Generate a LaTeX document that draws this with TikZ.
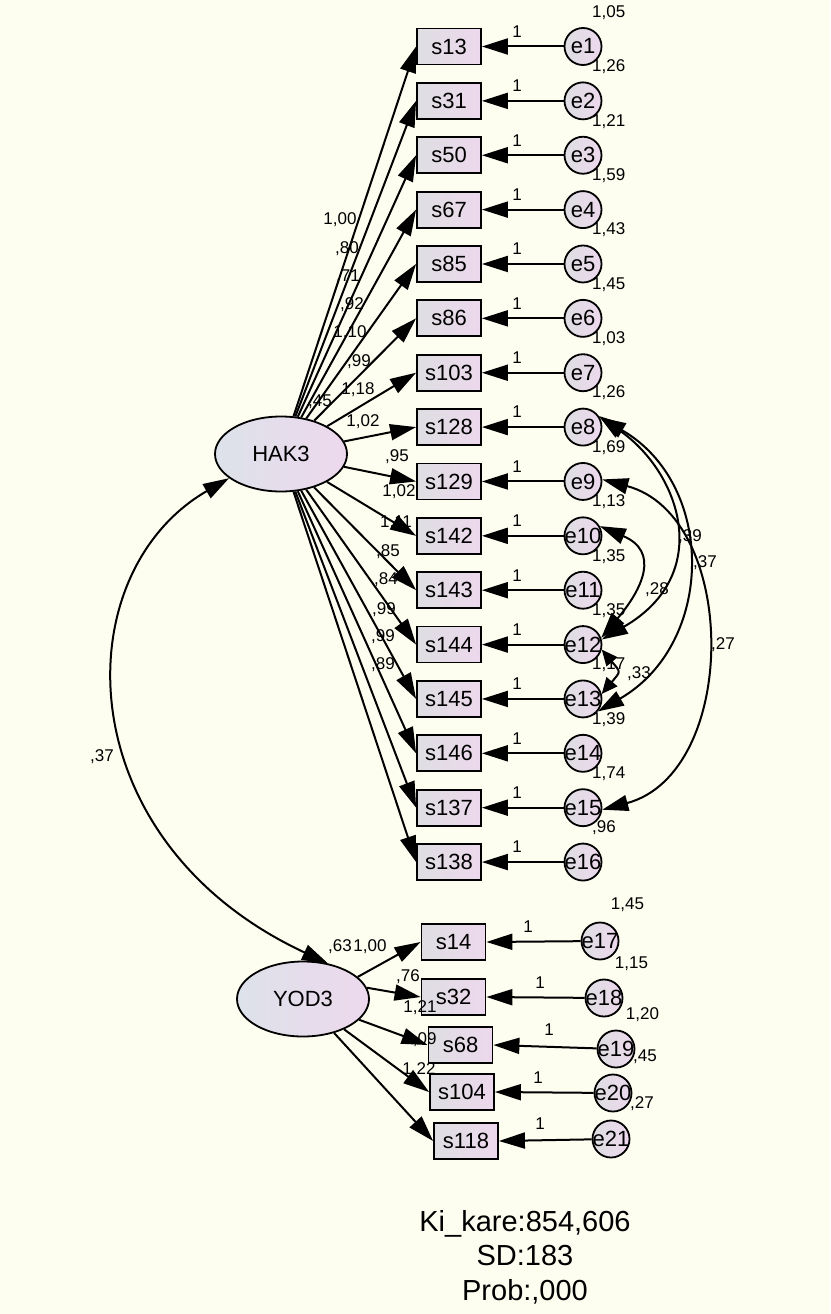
\documentclass[tikz,border=0pt]{standalone}
\usepackage{fontspec}
\setmainfont{Liberation Sans}
\usetikzlibrary{shapes.geometric, arrows.meta, positioning, calc}
\usepackage{xcolor}
\definecolor{AmosCream}{HTML}{FDFEF0}
\definecolor{AmosGrey}{HTML}{DEDEE2}
\definecolor{AmosBlue}{HTML}{DDE2EA}
\definecolor{AmosLilac}{HTML}{EDD8ED}
\tikzset{
    % Node styles
    itembox/.style={
        rectangle,
        draw=black,
        line width=1.8pt,
        left color=AmosGrey,
        right color=AmosLilac,
        minimum width=64pt,
        minimum height=36pt,
        inner sep=0pt,
        font=\fontsize{22}{26}\selectfont
    },
    errcircle/.style={
        circle,
        draw=black,
        line width=1.8pt,
        left color=AmosGrey,
        right color=AmosLilac,
        minimum size=37pt,
        inner sep=0pt,
        font=\fontsize{22}{26}\selectfont
    },
    latentvar/.style={
        ellipse,
        draw=black,
        line width=1.8pt,
        left color=AmosBlue,
        right color=AmosLilac,
        minimum width=132pt,
        minimum height=75pt,
        inner sep=0pt,
        font=\fontsize{22}{26}\selectfont
    },
    % Arrow styles
    patharrow/.style={
        -{Triangle[length=26pt,width=16pt]},
        line width=2pt,
        black
    },
    covarrow/.style={
        {Triangle[length=26pt,width=16pt]}-{Triangle[length=26pt,width=16pt]},
        line width=2pt,
        black
    },
    covshort/.style={
        {Triangle[length=16pt,width=14pt]}-{Triangle[length=16pt,width=14pt]},
        line width=2pt,
        black
    },
    % Text styles
    estlabel/.style={
        inner sep=0pt,
        font=\fontsize{17}{20}\selectfont
    },
    fitlabel/.style={
        inner sep=0pt,
        align=center,
        font=\fontsize{29}{34.5}\selectfont
    }
}

\begin{document}
\begin{tikzpicture}[x=1pt, y=1pt]
    % page
    \fill[AmosCream] (0,0) rectangle (830,-1314);
    \useasboundingbox (0,0) rectangle (830,-1314);

    % Latent variables
    \node[latentvar] (HAK3) at (281,-454) {HAK3};
    \node[latentvar] (YOD3) at (303,-999) {YOD3};

    % HAK3 indicators and error terms
    \foreach \s [count=\i] in {13,31,50,67,85,86,103,128,129,142,143,144,145,146,137,138}{
        \node[itembox] (s\s) at (449,{-46.5-54.37*(\i-1)}) {s\s};
        \node[errcircle] (e\i) at (583,{-46.5-54.37*(\i-1)}) {\makebox[0pt]{e\i}};
        \draw[patharrow] (e\i) -- (s\s.east);
        \node[estlabel] at (517,{-31.5-54.37*(\i-1)}) {1};
        \draw[patharrow] (HAK3) -- (s\s.west);
    }

    % error variances (HAK3 block)
    \foreach \v [count=\i] in {{1,05},{1,26},{1,21},{1,59},{1,43},{1,45},{1,03},{1,26},
                               {1,69},{1,13},{1,35},{1,35},{1,17},{1,39},{1,74},{,96}}{
        \node[estlabel, anchor=west] at (592,{-12.5-54.37*(\i-1)}) {\v};
    }

    % loadings (HAK3 block)
    \foreach \lx/\ly/\lam in {340/220/{1,00}, 347/249/{,80}, 348/277/{,71}, 352/305/{,92},
                              350/333/{1,10}, 359/362/{,99}, 358/390/{1,18}, 363/422/{1,02},
                              397/457/{,95}, 399/492/{1,02}, 396/523/{1,11}, 388/552/{,85},
                              386/580/{,84}, 384/610/{,99}, 383/637/{,99}, 383/665/{,89}}{
        \node[estlabel] at (\lx,-\ly) {\lam};
    }
    \node[estlabel] (varHAK) at (320,-402) {,45};

    % YOD3 indicators and error terms
    \foreach \s/\from/\bx/\by/\ex/\ey/\ox/\oy [count=\j from 17] in
        {14/YOD3.22/453.5/942/600/941/528/927, 32/YOD3.10/453.5/997/604/998/540/983,
         68/YOD3/460.5/1045/616/1049/549/1030, 104/YOD3/462/1092/613/1093/538/1078,
         118/YOD3/466/1141/611/1139/540/1124}{
        \node[itembox] (s\s) at (\bx,-\by) {s\s};
        \node[errcircle] (e\j) at (\ex,-\ey) {\makebox[0pt]{e\j}};
        \draw[patharrow] (e\j) -- (s\s.east);
        \node[estlabel] at (\ox,-\oy) {1};
        \draw[patharrow] (\from) -- (s\s.west);
    }

    % error variances (YOD3 block)
    \node[estlabel] at (627.5,-905) {1,45};
    \node[estlabel] at (631.5,-964) {1,15};
    \node[estlabel] at (642.5,-1015) {1,20};
    \node[estlabel] at (645,-1057) {,45};
    \node[estlabel] at (642,-1104) {,27};

    % loadings (YOD3 block)
    \node[estlabel] (varYOD) at (340,-947) {,63};
    \node[estlabel] at (370,-947) {1,00};
    \node[estlabel] at (408,-977) {,76};
    \node[estlabel] at (420,-1008) {1,21};
    \node[estlabel] at (420,-1040) {1,09};
    \node[estlabel] at (419,-1070) {1,22};

    % factor covariance
    \draw[covarrow] (HAK3.205) .. controls +(210:190) and +(155:290) .. (YOD3.55);
    \node[estlabel] at (102,-757) {,37};

    % error covariances
    \draw[covarrow] (e8.35) .. controls +(-35:100) and +(30:130) .. (e12.15);
    \draw[covarrow] (e8.30) .. controls +(-30:135) and +(30:135) .. (e13.-40);
    \draw[covarrow] (e9.6) .. controls +(-15:142) and +(15:142) .. (e15.-6);
    \draw[covarrow] (e10.30) .. controls +(-23:65) and +(50:65) .. (e12.20);
    \draw[covshort] (e12.-15) .. controls +(-50:30) and +(50:30) .. (e13.15);
    \node[estlabel] at (690,-537) {,39};
    \node[estlabel] at (705,-563) {,37};
    \node[estlabel] at (657,-590) {,28};
    \node[estlabel] at (723,-645) {,27};
    \node[estlabel] at (639,-674) {,33};

    % fit statistics
    \node[fitlabel] (fit) at (525,-1257) {Ki\_kare:854,606\\SD:183\\Prob:,000};
\end{tikzpicture}
\end{document}
